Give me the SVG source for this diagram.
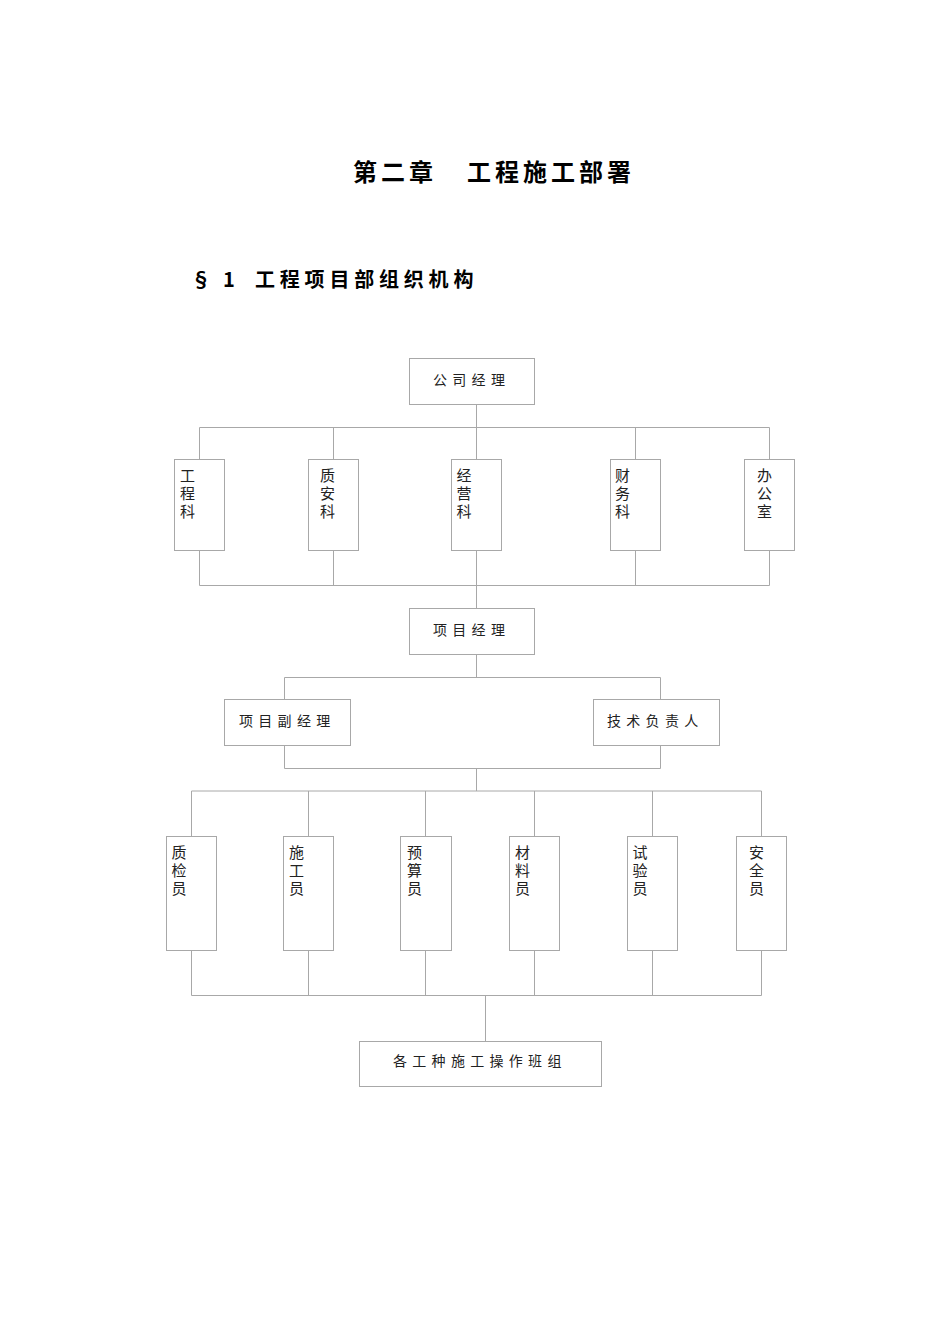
<svg xmlns="http://www.w3.org/2000/svg" width="950" height="1344" viewBox="0 0 950 1344">
<style>
.bg{fill:#ffffff}
.box{fill:#ffffff;stroke:#a8a8a8;stroke-width:1}
.ln{fill:none;stroke:#a8a8a8;stroke-width:1}
.t{font-family:"Noto Sans CJK SC","Noto Sans",sans-serif;font-size:14px;fill:#222222;letter-spacing:5.3px}
.v{font-family:"Noto Sans CJK SC","Noto Sans",sans-serif;font-size:15px;fill:#222222;writing-mode:vertical-rl;letter-spacing:3px}
.h1{font-family:"Noto Sans CJK SC","Liberation Sans",sans-serif;font-size:24px;font-weight:bold;fill:#000000;letter-spacing:4px}
.h2{font-family:"Noto Sans CJK SC","Liberation Sans",sans-serif;font-size:20px;font-weight:bold;fill:#000000;letter-spacing:4.8px}
</style>
<rect class="bg" x="0" y="0" width="950" height="1344"/>
<text class="h1" y="181"><tspan x="353">第二章</tspan><tspan x="467">工程施工部署</tspan></text>
<text class="h2" y="287"><tspan x="191">§</tspan><tspan x="223">1</tspan><tspan x="255">工程项目部组织机构</tspan></text>
<g id="connectors">
<path class="ln" d="M476.5 404V608M199.5 427.5H769.5M199.5 427.5V459M333.5 427.5V459M635.5 427.5V459M769.5 427.5V459"/>
<path class="ln" d="M199.5 550V585.5H769.5V550M333.5 550V585.5M635.5 550V585.5"/>
<path class="ln" d="M476.5 654V677.5M284.5 677.5H660.5M284.5 677.5V699M660.5 677.5V699"/>
<path class="ln" d="M284.5 745V768.5H660.5V745M476.5 768.5V791"/>
<path class="ln" d="M191.5 791H761.5M191.5 791V836M308.5 791V836M425.5 791V836M534.5 791V836M652.5 791V836M761.5 791V836"/>
<path class="ln" d="M191.5 950V995.5H761.5V950M308.5 950V995.5M425.5 950V995.5M534.5 950V995.5M652.5 950V995.5M485.5 995.5V1041"/>
</g>
<g id="n-gongsi"><rect class="box" x="409.5" y="358.5" width="125" height="46"/><text class="t" x="433" y="384.5">公司经理</text></g>
<g id="n-gongcheng"><rect class="box" x="174.5" y="459.5" width="50" height="91"/><text class="v" x="187.5" y="467.5">工程科</text></g>
<g id="n-zhian"><rect class="box" x="308.5" y="459.5" width="50" height="91"/><text class="v" x="327.5" y="467.5">质安科</text></g>
<g id="n-jingying"><rect class="box" x="451.5" y="459.5" width="50" height="91"/><text class="v" x="464" y="467.5">经营科</text></g>
<g id="n-caiwu"><rect class="box" x="610.5" y="459.5" width="50" height="91"/><text class="v" x="622.5" y="467.5">财务科</text></g>
<g id="n-bangong"><rect class="box" x="744.5" y="459.5" width="50" height="91"/><text class="v" x="764.5" y="467.5">办公室</text></g>
<g id="n-xiangmu"><rect class="box" x="409.5" y="608.5" width="125" height="46"/><text class="t" x="433" y="634.5">项目经理</text></g>
<g id="n-fujingli"><rect class="box" x="224.5" y="699.5" width="126" height="46"/><text class="t" x="239" y="725.5">项目副经理</text></g>
<g id="n-jishu"><rect class="box" x="593.5" y="699.5" width="126" height="46"/><text class="t" x="607" y="725.5">技术负责人</text></g>
<g id="n-zhijian"><rect class="box" x="166.5" y="836.5" width="50" height="114"/><text class="v" x="179" y="845">质检员</text></g>
<g id="n-shigong"><rect class="box" x="283.5" y="836.5" width="50" height="114"/><text class="v" x="296.5" y="845">施工员</text></g>
<g id="n-yusuan"><rect class="box" x="400.5" y="836.5" width="51" height="114"/><text class="v" x="414.5" y="845">预算员</text></g>
<g id="n-cailiao"><rect class="box" x="509.5" y="836.5" width="50" height="114"/><text class="v" x="522.5" y="845">材料员</text></g>
<g id="n-shiyan"><rect class="box" x="627.5" y="836.5" width="50" height="114"/><text class="v" x="640" y="845">试验员</text></g>
<g id="n-anquan"><rect class="box" x="736.5" y="836.5" width="50" height="114"/><text class="v" x="756.5" y="845">安全员</text></g>
<g id="n-banzu"><rect class="box" x="359.5" y="1041.5" width="242" height="45"/><text class="t" x="393" y="1066">各工种施工操作班组</text></g>
</svg>
